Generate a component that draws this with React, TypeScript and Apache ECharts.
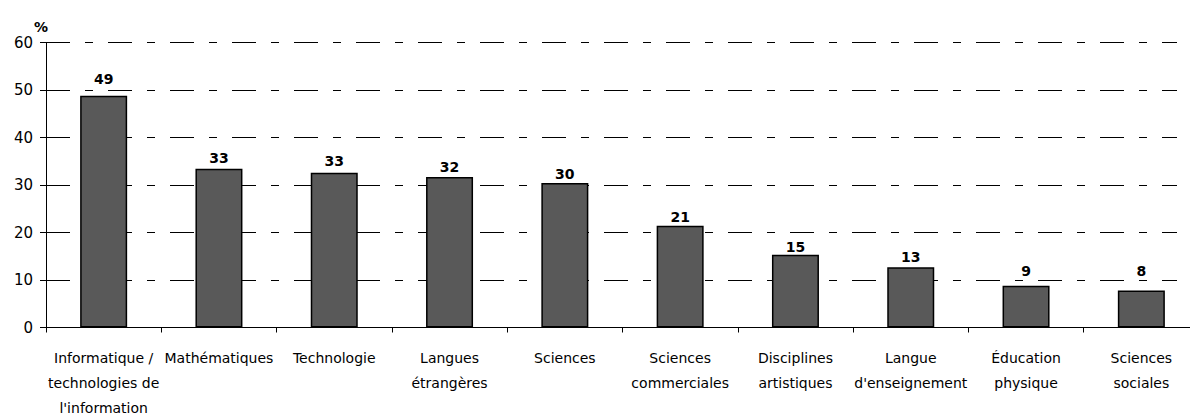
import React, { useEffect, useRef } from "react";
import * as echarts from "echarts";

const categories = [
  "Informatique /\ntechnologies de\nl'information",
  "Mathématiques",
  "Technologie",
  "Langues\nétrangères",
  "Sciences",
  "Sciences\ncommerciales",
  "Disciplines\nartistiques",
  "Langue\nd'enseignement",
  "Éducation\nphysique",
  "Sciences\nsociales",
];
const values = [48.8, 33.4, 32.6, 31.7, 30.4, 21.4, 15.3, 12.7, 8.8, 7.8];
const yTicks = { min: 0, max: 60, interval: 10 };
const unitLabel = "%";

// label gap above each bar (style only)
const labelGaps = [10, 4, 5, 3, 2, 2, 1, 3, 8, 12];

export default function App() {
  const ref = useRef<HTMLDivElement>(null);
  useEffect(() => {
    document.body.style.margin = "0";
    const chart = echarts.init(ref.current!, null, { renderer: "svg" });
    chart.setOption({
      animation: false,
      backgroundColor: "#fff",
      title: {
        text: unitLabel,
        left: 29,
        top: 15,
        textStyle: { fontFamily: "DejaVu Sans", fontSize: 14, fontWeight: "bold", color: "#000" },
      },
      grid: {
        left: 46,
        right: -9,
        top: 42.5,
        bottom: 87.5,
        containLabel: false,
        outerBoundsMode: "none",
      },
      xAxis: {
        type: "category",
        data: categories,
        axisLine: { lineStyle: { color: "#000", width: 1 } },
        axisTick: { show: true, length: 5, alignWithLabel: false, lineStyle: { color: "#000" } },
        axisLabel: {
          interval: 0,
          margin: 18,
          fontFamily: "DejaVu Sans",
          fontSize: 14,
          lineHeight: 25,
          color: "#000",
          align: "center",
        },
      },
      yAxis: {
        type: "value",
        min: yTicks.min,
        max: yTicks.max,
        interval: yTicks.interval,
        axisLine: { show: true, lineStyle: { color: "#000", width: 1 } },
        axisTick: { show: true, inside: false, length: 6, lineStyle: { color: "#000" } },
        axisLabel: { fontFamily: "DejaVu Sans", fontSize: 15, color: "#000", margin: 13 },
        splitLine: {
          show: true,
          lineStyle: { color: "#000", width: 1, type: [24, 15, 8, 15], dashOffset: 0 },
        },
      },
      series: [
        {
          type: "bar",
          data: values.map((v, i) => ({ value: v, label: { distance: labelGaps[i] } })),
          barWidth: 47,
          itemStyle: { color: "#595959", borderColor: "#000", borderWidth: 1.5 },
          label: {
            show: true,
            position: "top",
            fontFamily: "DejaVu Sans",
            fontSize: 14,
            fontWeight: "bold",
            color: "#000",
            formatter: (p: any) => String(Math.round(p.value)),
          },
        },
      ],
      graphic: [
        {
          type: "rect",
          z: 100,
          shape: { x: 1177, y: 35, width: 20, height: 285 },
          style: { fill: "#fff" },
        },
      ],
    });
    return () => chart.dispose();
  }, []);
  return <div ref={ref} style={{ width: 1190, height: 415 }} />;
}
